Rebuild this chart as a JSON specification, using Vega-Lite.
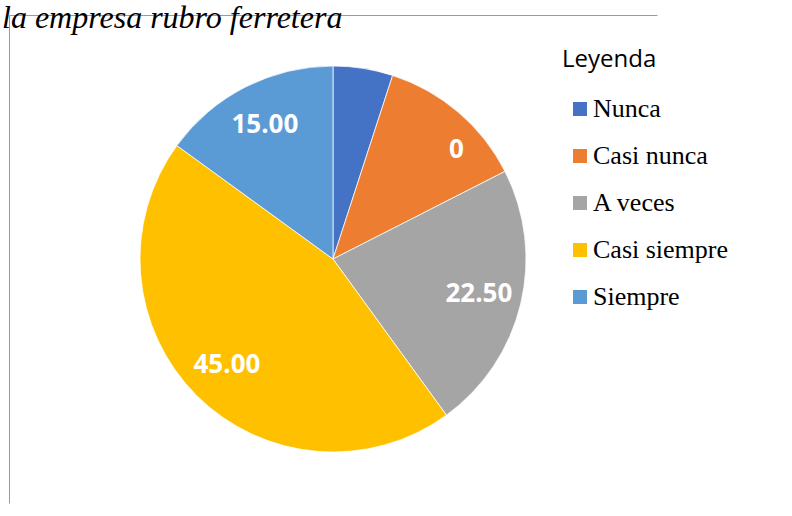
{
  "$schema": "https://vega.github.io/schema/vega-lite/v6.json",
  "autosize": {"type": "none"},
  "width": 648,
  "height": 488,
  "padding": {"left": 9, "top": 15, "right": 135, "bottom": 13},
  "background": "white",
  "view": {"stroke": "#9a9a9a", "strokeWidth": 1, "strokeDash": [648, 1136, 488, 0]},
  "title": {
    "text": "la empresa rubro ferretera",
    "anchor": "start",
    "frame": "group",
    "orient": "top",
    "offset": 0,
    "baseline": "alphabetic",
    "dx": -7,
    "dy": 45,
    "font": "Liberation Serif",
    "fontStyle": "italic",
    "fontWeight": "normal",
    "fontSize": 32,
    "color": "#000000"
  },
  "data": {
    "values": [
      {"cat": "Nunca", "orden": 1, "valor": 5, "label": ""},
      {"cat": "Casi nunca", "orden": 2, "valor": 12.5, "label": "0"},
      {"cat": "A veces", "orden": 3, "valor": 22.5, "label": "22.50"},
      {"cat": "Casi siempre", "orden": 4, "valor": 45, "label": "45.00"},
      {"cat": "Siempre", "orden": 5, "valor": 15, "label": "15.00"}
    ]
  },
  "encoding": {
    "theta": {"field": "valor", "type": "quantitative", "stack": true},
    "order": {"field": "orden", "type": "quantitative"},
    "color": {
      "field": "cat",
      "type": "nominal",
      "sort": null,
      "scale": {
        "domain": ["Nunca", "Casi nunca", "A veces", "Casi siempre", "Siempre"],
        "range": ["#4472C4", "#ED7D31", "#A5A5A5", "#FFC000", "#5B9BD5"]
      },
      "legend": {
        "title": "Leyenda",
        "orient": "none",
        "legendX": 553,
        "legendY": 33,
        "titleFont": "Open Sans",
        "titleFontSize": 24,
        "titleFontWeight": "normal",
        "titleColor": "#000000",
        "titlePadding": 24,
        "labelFont": "Liberation Serif",
        "labelFontSize": 26,
        "labelColor": "#000000",
        "labelOffset": 0,
        "symbolType": "square",
        "symbolSize": 196,
        "symbolStrokeWidth": 0,
        "symbolOffset": 5,
        "rowPadding": 21
      }
    }
  },
  "layer": [
    {
      "mark": {"type": "arc", "outerRadius": 193, "stroke": "#ffffff", "strokeWidth": 0.75}
    },
    {
      "mark": {"type": "text", "radius": 150, "font": "Open Sans", "fontWeight": "bold", "fontSize": 26, "baseline": "middle", "align": "center"},
      "encoding": {
        "text": {"condition": {"test": "datum.cat != 'Casi nunca'", "field": "label"}, "value": ""},
        "color": {"value": "#ffffff"}
      }
    },
    {
      "mark": {"type": "text", "radius": 150, "dx": 26, "dy": 5, "font": "Open Sans", "fontWeight": "bold", "fontSize": 26, "baseline": "middle", "align": "center"},
      "encoding": {
        "text": {"condition": {"test": "datum.cat == 'Casi nunca'", "field": "label"}, "value": ""},
        "color": {"value": "#ffffff"}
      }
    }
  ]
}
